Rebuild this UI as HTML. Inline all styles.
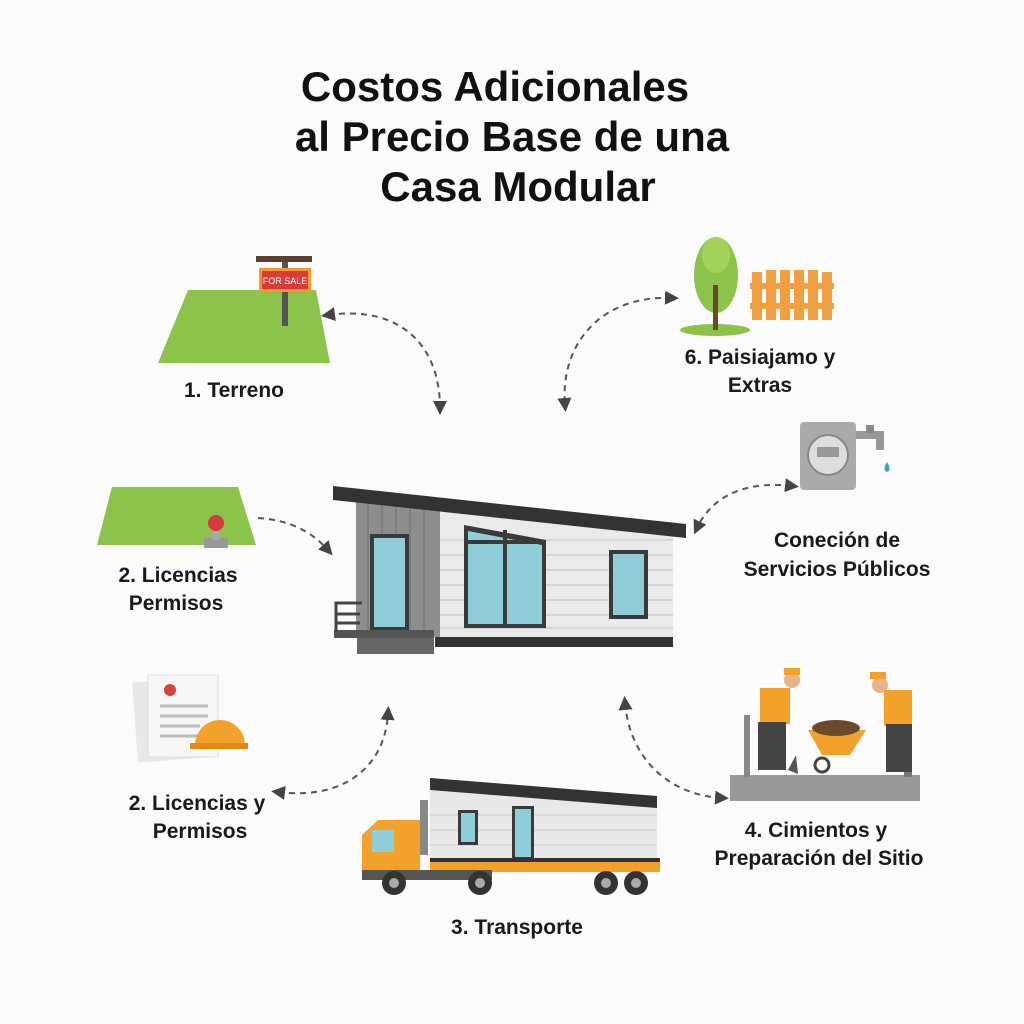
<!DOCTYPE html>
<html><head><meta charset="utf-8"><style>
html,body{margin:0;padding:0;background:#fbfbfb;}
svg{display:block}
text{font-family:"Liberation Sans",Arial,sans-serif;fill:#111;}
.t{font-weight:bold;font-size:42px;text-anchor:middle}
.l{font-size:21px;text-anchor:middle;font-weight:bold;fill:#1a1a1a}
.d{fill:none;stroke:#555;stroke-width:2;stroke-dasharray:6 5}
</style></head><body>
<svg width="1024" height="1024" viewBox="0 0 1024 1024">
<defs><marker id="a" viewBox="0 0 10 10" refX="5" refY="5" markerWidth="7" markerHeight="7" orient="auto-start-reverse"><path d="M0,0 L10,5 L0,10 z" fill="#444"/></marker></defs>
<rect width="1024" height="1024" fill="#fbfbfb"/>
<text class="t" x="495" y="101">Costos Adicionales</text>
<text class="t" x="512" y="151">al Precio Base de una</text>
<text class="t" x="518" y="201">Casa Modular</text>

<!-- Terreno -->
<polygon points="158,363 330,363 316,290 188,290" fill="#8cc34b"/>
<rect x="282" y="262" width="6" height="64" fill="#555"/>
<rect x="256" y="256" width="56" height="6" fill="#5a4030"/>
<rect x="259" y="268" width="52" height="24" fill="#f29a2e"/>
<rect x="262" y="271" width="46" height="18" fill="#d93a3a"/>
<text x="285" y="284" font-size="9" style="fill:#fff" text-anchor="middle">FOR SALE</text>
<text class="l" x="234" y="397">1. Terreno</text>

<!-- Permisos green -->
<polygon points="97,545 256,545 238,487 112,487" fill="#8cc34b"/>
<rect x="204" y="538" width="24" height="10" fill="#999"/>
<rect x="212" y="528" width="8" height="12" fill="#aaa"/>
<circle cx="216" cy="523" r="8" fill="#d63a3a"/>
<text class="l" x="178" y="582">2. Licencias</text>
<text class="l" x="176" y="610">Permisos</text>

<!-- Documents -->
<rect x="135" y="680" width="70" height="80" fill="#e8e8e8" transform="rotate(-4 170 720)"/>
<rect x="148" y="675" width="70" height="82" fill="#f6f6f6" stroke="#ddd"/>
<circle cx="170" cy="690" r="6" fill="#d94040"/>
<g stroke="#bbb" stroke-width="3"><line x1="160" y1="706" x2="208" y2="706"/><line x1="160" y1="716" x2="208" y2="716"/><line x1="160" y1="726" x2="200" y2="726"/><line x1="160" y1="736" x2="206" y2="736"/></g>
<path d="M195,745 A25,25 0 0 1 245,745 Z" fill="#f2a22a"/>
<rect x="190" y="743" width="58" height="6" fill="#e08a15"/>
<text class="l" x="197" y="810">2. Licencias y</text>
<text class="l" x="200" y="838">Permisos</text>

<!-- House -->
<rect x="356" y="502" width="84" height="135" fill="#8e8e8e"/>
<g stroke="#7a7a7a" stroke-width="1.5"><line x1="368" y1="502" x2="368" y2="637"/><line x1="382" y1="502" x2="382" y2="637"/><line x1="396" y1="502" x2="396" y2="637"/><line x1="410" y1="502" x2="410" y2="637"/><line x1="424" y1="502" x2="424" y2="637"/></g>
<polygon points="440,505 673,535 673,637 440,637" fill="#eaeaea"/>
<g stroke="#cfcfcf" stroke-width="1.5"><line x1="440" y1="540" x2="673" y2="540"/><line x1="440" y1="555" x2="673" y2="555"/><line x1="440" y1="570" x2="673" y2="570"/><line x1="440" y1="585" x2="673" y2="585"/><line x1="440" y1="600" x2="673" y2="600"/><line x1="440" y1="615" x2="673" y2="615"/><line x1="440" y1="628" x2="673" y2="628"/></g>
<polygon points="333,486 686,524 686,538 333,500" fill="#333"/>
<rect x="370" y="534" width="39" height="97" fill="#3a3a3a"/><rect x="374" y="538" width="31" height="89" fill="#8fcdd8"/>
<polygon points="464,525 546,540 546,628 464,628" fill="#3a3a3a"/><polygon points="468,531 542,545 542,624 468,624" fill="#8fcdd8"/>
<rect x="503" y="530" width="4" height="96" fill="#3a3a3a"/><rect x="466" y="540" width="78" height="4" fill="#3a3a3a"/>
<rect x="609" y="550" width="39" height="69" fill="#3a3a3a"/><rect x="613" y="554" width="31" height="61" fill="#8fcdd8"/>
<rect x="435" y="637" width="238" height="10" fill="#333"/>
<rect x="334" y="630" width="100" height="8" fill="#555"/>
<rect x="357" y="638" width="77" height="16" fill="#666"/>
<g stroke="#444" stroke-width="3" fill="none"><path d="M336,632 V603 H362 M336,614 H360 M336,623 H360"/></g>

<!-- Landscaping -->
<ellipse cx="715" cy="330" rx="35" ry="6" fill="#8cc34b"/>
<ellipse cx="716" cy="275" rx="22" ry="38" fill="#8cc34b"/>
<ellipse cx="716" cy="255" rx="14" ry="18" fill="#a4d35a"/>
<rect x="713" y="285" width="5" height="45" fill="#6b4a2b"/>
<g fill="#f0a040"><rect x="752" y="272" width="10" height="48"/><rect x="766" y="270" width="10" height="50"/><rect x="780" y="270" width="10" height="50"/><rect x="794" y="270" width="10" height="50"/><rect x="808" y="270" width="10" height="50"/><rect x="822" y="272" width="10" height="48"/><rect x="750" y="283" width="84" height="6"/><rect x="750" y="303" width="84" height="6"/></g>
<text class="l" x="760" y="364">6. Paisiajamo y</text>
<text class="l" x="760" y="392">Extras</text>

<!-- Utilities -->
<rect x="800" y="422" width="56" height="68" rx="4" fill="#aaa"/>
<circle cx="828" cy="455" r="20" fill="#ddd" stroke="#888" stroke-width="2"/>
<rect x="817" y="447" width="22" height="10" fill="#999"/>
<path d="M856,435 H880 V450" stroke="#999" stroke-width="8" fill="none"/>
<rect x="866" y="425" width="8" height="8" fill="#888"/>
<path d="M887,462 q-5,8 0,10 q5,-2 0,-10z" fill="#3aa0d8"/>
<text class="l" x="837" y="547">Coneción de</text>
<text class="l" x="837" y="576">Servicios Públicos</text>

<!-- Workers -->
<rect x="730" y="775" width="190" height="26" fill="#999"/>
<rect x="744" y="715" width="6" height="62" fill="#888"/>
<rect x="904" y="745" width="8" height="32" fill="#777"/>
<circle cx="792" cy="680" r="8" fill="#e6b48a"/><rect x="784" y="668" width="16" height="7" fill="#f2a22a"/>
<rect x="760" y="688" width="30" height="36" fill="#f2a22a"/>
<rect x="758" y="722" width="28" height="48" fill="#444"/>
<circle cx="880" cy="685" r="8" fill="#e6b48a"/><rect x="870" y="672" width="16" height="7" fill="#f2a22a"/>
<rect x="884" y="690" width="28" height="36" fill="#f2a22a"/>
<rect x="886" y="724" width="26" height="48" fill="#444"/>
<path d="M808,730 H866 L850,755 H822 Z" fill="#f2a22a"/>
<ellipse cx="836" cy="728" rx="24" ry="8" fill="#6b4a2b"/>
<circle cx="822" cy="765" r="7" fill="none" stroke="#444" stroke-width="3"/>
<path d="M796,755 l-8,15 l10,4 z" fill="#555"/>
<text class="l" x="816" y="837">4. Cimientos y</text>
<text class="l" x="819" y="865">Preparación del Sitio</text>

<!-- Truck -->
<polygon points="430,778 657,796 657,860 430,860" fill="#e8e8e8"/>
<polygon points="430,778 657,796 657,808 430,790" fill="#333"/>
<g stroke="#ccc"><line x1="430" y1="815" x2="657" y2="815"/><line x1="430" y1="830" x2="657" y2="830"/><line x1="430" y1="845" x2="657" y2="845"/></g>
<rect x="458" y="810" width="20" height="35" fill="#3a3a3a"/><rect x="461" y="813" width="14" height="29" fill="#8fcdd8"/>
<rect x="512" y="806" width="22" height="54" fill="#3a3a3a"/><rect x="515" y="809" width="16" height="48" fill="#8fcdd8"/>
<rect x="430" y="860" width="230" height="12" fill="#f2a22a"/>
<rect x="430" y="858" width="230" height="4" fill="#333"/>
<path d="M362,880 V835 L378,820 H420 V880 Z" fill="#f2a22a"/>
<rect x="372" y="830" width="22" height="22" fill="#8fcdd8"/>
<rect x="420" y="800" width="8" height="55" fill="#888"/>
<rect x="362" y="870" width="130" height="10" fill="#555"/>
<g fill="#333"><circle cx="394" cy="883" r="12"/><circle cx="480" cy="883" r="12"/><circle cx="606" cy="883" r="12"/><circle cx="636" cy="883" r="12"/></g>
<g fill="#aaa"><circle cx="394" cy="883" r="5"/><circle cx="480" cy="883" r="5"/><circle cx="606" cy="883" r="5"/><circle cx="636" cy="883" r="5"/></g>
<text class="l" x="517" y="934">3. Transporte</text>

<!-- dashed connectors -->
<path class="d" d="M328,315 C400,305 440,345 440,408" marker-start="url(#a)" marker-end="url(#a)"/>
<path class="d" d="M672,298 C600,295 560,345 565,405" marker-start="url(#a)" marker-end="url(#a)"/>
<path class="d" d="M258,518 C290,520 312,532 328,550" marker-end="url(#a)"/>
<path class="d" d="M792,486 C740,480 710,500 697,528" marker-start="url(#a)" marker-end="url(#a)"/>
<path class="d" d="M278,792 C340,800 385,770 388,713" marker-start="url(#a)" marker-end="url(#a)"/>
<path class="d" d="M625,703 C630,760 670,795 722,798" marker-start="url(#a)" marker-end="url(#a)"/>
</svg>
</body></html>
